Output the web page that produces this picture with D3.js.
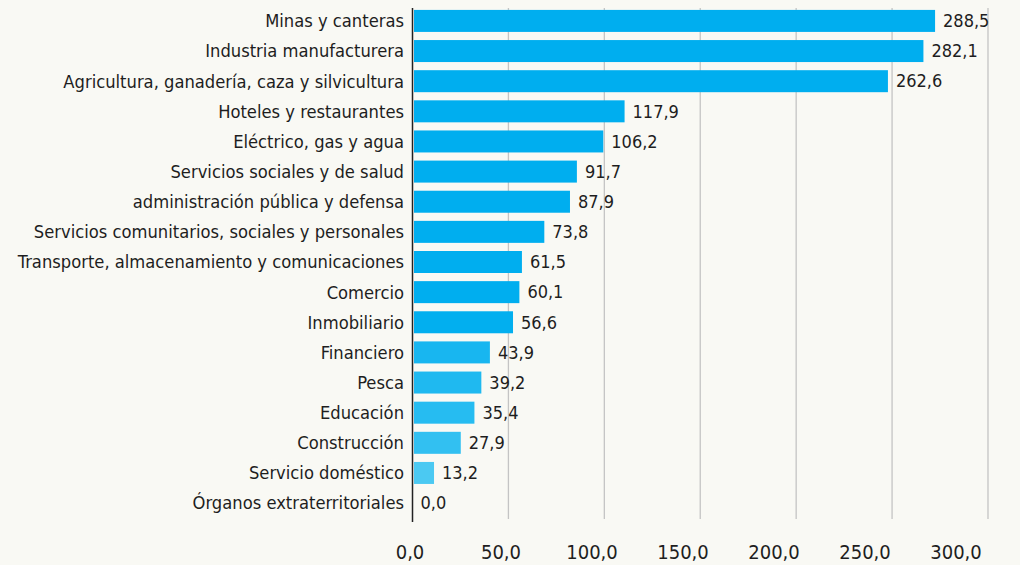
<!DOCTYPE html>
<meta charset="utf-8">
<title>Sectores</title>
<style>
body { margin: 0; background: #f9f9f4; }
svg { display: block; background: #f9f9f4; }
text { font-family: "DejaVu Sans Condensed", "DejaVu Sans", sans-serif; fill: #1e1e1e; }
</style>
<svg width="1020" height="565"></svg>
<script src="https://d3js.org/d3.v7.min.js"></script>
<script>
  var categories = [
    "Minas y canteras",
    "Industria manufacturera",
    "Agricultura, ganadería, caza y silvicultura",
    "Hoteles y restaurantes",
    "Eléctrico, gas y agua",
    "Servicios sociales y de salud",
    "administración pública y defensa",
    "Servicios comunitarios, sociales y personales ",
    "Transporte, almacenamiento y comunicaciones",
    "Comercio",
    "Inmobiliario",
    "Financiero",
    "Pesca",
    "Educación",
    "Construcción",
    "Servicio doméstico",
    "Órganos extraterritoriales"
  ]
  var values = [288.5, 282.1, 262.6, 117.9, 106.2, 91.7, 87.9, 73.8, 61.5, 60.1, 56.6, 43.9, 39.2, 35.4, 27.9, 13.2, 0.0]
  var ticks = [0, 50, 100, 150, 200, 250, 300]

  var svg = d3.select("svg"),
    left = 412.5,
    fmt = function(v) { return d3.format(".1f")(v).replace(".", ",") }

  // in the original the gridlines don't sit on the same scale as bars and tick labels
  var xGrid = d3.scaleLinear().domain([0, 300]).range([left, 988])
  var x = d3.scaleLinear().domain([0, 300]).range([410, 956])
  var y = d3.scaleBand().domain(categories).range([6, 518]).paddingInner(0.27).paddingOuter(0.13)
  var color = d3.scaleLinear().domain([13.2, 58]).range(["#4bc9f2", "#00aeef"]).clamp(true)

  svg.append("g").selectAll("line").data(ticks.slice(1)).join("line")
    .attr("x1", d => xGrid(d)).attr("x2", d => xGrid(d))
    .attr("y1", 8).attr("y2", 519)
    .attr("stroke", "#c4c4c4").attr("stroke-width", 1.3)

  svg.append("g").selectAll("rect").data(values).join("rect")
    .attr("x", left + 1.5)
    .attr("y", (d, i) => y(categories[i]))
    .attr("width", d => Math.max(0, x(d) - left - 1.5))
    .attr("height", y.bandwidth())
    .attr("fill", d => color(d))

  svg.append("line")
    .attr("x1", left).attr("x2", left).attr("y1", 8).attr("y2", 522)
    .attr("stroke", "#222").attr("stroke-width", 1.5)

  svg.append("g").selectAll("text").data(categories).join("text")
    .attr("x", 404)
    .attr("y", d => y(d) + y.bandwidth() / 2)
    .attr("dy", "0.35em")
    .attr("text-anchor", "end")
    .attr("font-size", 18.2)
    .text(d => d)

  svg.append("g").selectAll("text").data(values).join("text")
    .attr("x", d => Math.max(x(d), left) + 8)
    .attr("y", (d, i) => y(categories[i]) + y.bandwidth() / 2)
    .attr("dy", "0.35em")
    .attr("font-size", 18)
    .text(d => fmt(d))

  svg.append("g").selectAll("text").data(ticks).join("text")
    .attr("x", d => x(d))
    .attr("y", 552)
    .attr("dy", "0.35em")
    .attr("text-anchor", "middle")
    .attr("font-size", 20)
    .text(d => fmt(d))
</script>
